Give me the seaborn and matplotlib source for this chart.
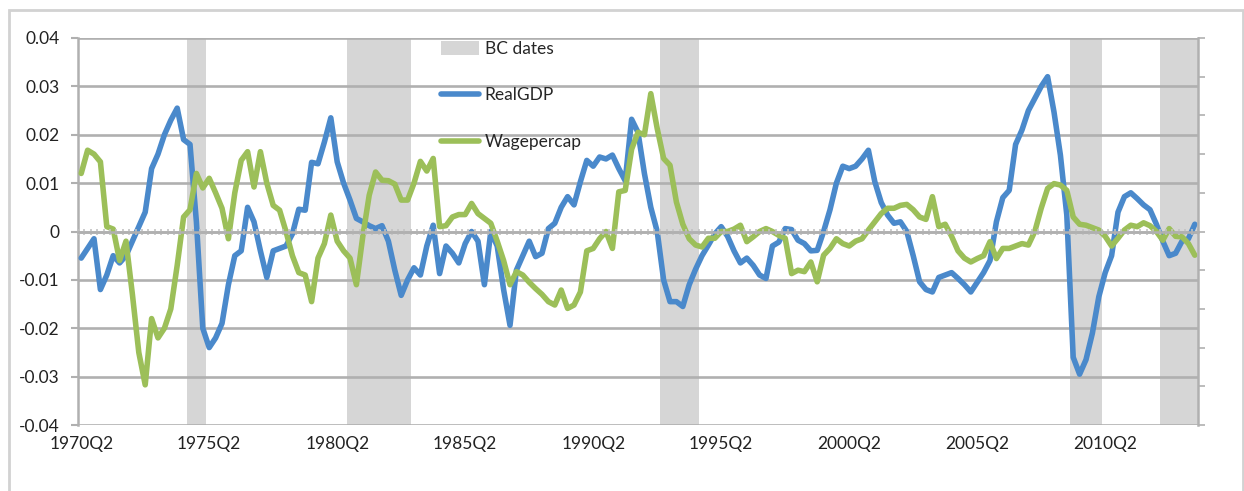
import numpy as np
import pandas as pd
import matplotlib
matplotlib.use("Agg")
import matplotlib.pyplot as plt
import seaborn as sns
from matplotlib.patches import Patch, Rectangle
from matplotlib.lines import Line2D
from matplotlib.ticker import MultipleLocator, FuncFormatter

# quarters 1970Q2 .. 2013Q4
quarters = [f"{1970 + (i + 1) // 4}Q{(i + 1) % 4 + 1}" for i in range(175)]

real_gdp = [
    -0.0055, -0.0035, -0.0015, -0.012, -0.009, -0.005, -0.0065, -0.005, -0.002, 0.001,
    0.004, 0.013, 0.016, 0.02, 0.023, 0.0255, 0.019, 0.018, 0.002, -0.02,
    -0.024, -0.022, -0.019, -0.011, -0.005, -0.004, 0.005, 0.002, -0.004, -0.0095,
    -0.004, -0.0035, -0.003, -0.0005, 0.0046, 0.0044, 0.0143, 0.014, 0.0185, 0.0235,
    0.0144, 0.01, 0.0065, 0.0027, 0.002, 0.0012, 0.0006, 0.0012, -0.002, -0.008,
    -0.0132, -0.01, -0.0075, -0.009, -0.003, 0.0013, -0.0087, -0.003, -0.0045, -0.0065,
    -0.0025, 0.0, -0.002, -0.011, 0.0, -0.003, -0.012, -0.0194, -0.008, -0.005,
    -0.002, -0.0052, -0.0045, 0.0006, 0.0017, 0.005, 0.0072, 0.0055, 0.0103, 0.0147,
    0.0135, 0.0154, 0.015, 0.0158, 0.013, 0.0105, 0.0232, 0.0205, 0.012, 0.005,
    0.0, -0.010, -0.0145, -0.0145, -0.0155, -0.011, -0.0078, -0.005, -0.0028, -0.0005,
    0.001, -0.001, -0.004, -0.0065, -0.0055, -0.007, -0.009, -0.0097, -0.003, -0.0022,
    0.0006, 0.0004, -0.0018, -0.0025, -0.004, -0.0039, 0.0, 0.0045, 0.010, 0.0135,
    0.013, 0.0135, 0.015, 0.0168, 0.0103, 0.006, 0.0034, 0.0017, 0.002, 0.0,
    -0.005, -0.0104, -0.012, -0.0125, -0.0095, -0.009, -0.0085, -0.0097, -0.011, -0.0125,
    -0.0105, -0.0085, -0.006, 0.002, 0.007, 0.0085, 0.018, 0.021, 0.025, 0.0275,
    0.030, 0.032, 0.0247, 0.0158, 0.0034, -0.026, -0.0295, -0.0265, -0.021, -0.0135,
    -0.0085, -0.005, 0.004, 0.0072, 0.008, 0.0068, 0.0055, 0.0045, 0.0015, -0.002,
    -0.005, -0.0045, -0.002, -0.0015, 0.0015,
]

wage_per_cap = [
    0.012, 0.0168, 0.016, 0.0144, 0.001, 0.0005, -0.006, -0.002, -0.013, -0.025,
    -0.0317, -0.018, -0.022, -0.020, -0.016, -0.007, 0.003, 0.0045, 0.012, 0.009,
    0.011, 0.008, 0.0048, -0.0015, 0.008, 0.0147, 0.0165, 0.0092, 0.0165, 0.010,
    0.0054, 0.0044, 0.0, -0.005, -0.0085, -0.009, -0.0145, -0.0055, -0.0025, 0.0034,
    -0.002, -0.004, -0.0055, -0.011, -0.001, 0.0075, 0.0123, 0.0106, 0.0105, 0.0098,
    0.0065, 0.0065, 0.01, 0.0145, 0.0125, 0.0151, 0.001, 0.0012, 0.003, 0.0035,
    0.0035, 0.0058, 0.0037, 0.0027, 0.0017, -0.002, -0.006, -0.011, -0.0083, -0.009,
    -0.0105, -0.0118, -0.013, -0.0145, -0.0152, -0.0121, -0.0159, -0.0152, -0.0125, -0.004,
    -0.0035, -0.0015, 0.0, -0.0035, 0.0082, 0.0085, 0.017, 0.0205, 0.020, 0.0285,
    0.0213, 0.0151, 0.0137, 0.0061, 0.0015, -0.0015, -0.0028, -0.0032, -0.0014, -0.0014,
    0.0, 0.0, 0.0005, 0.0013, -0.0021, -0.0011, 0.0, 0.0006, 0.0, -0.0008,
    -0.0014, -0.0087, -0.008, -0.0083, -0.0063, -0.0104, -0.0049, -0.0035, -0.0015, -0.0025,
    -0.003, -0.002, -0.0015, 0.0003, 0.002, 0.0037, 0.0048, 0.0048, 0.0054, 0.0056,
    0.0045, 0.003, 0.0025, 0.0072, 0.001, 0.0015, -0.001, -0.004, -0.0055, -0.0063,
    -0.0056, -0.005, -0.0021, -0.0056, -0.0035, -0.0035, -0.003, -0.0025, -0.0028, 0.0,
    0.0048, 0.0089, 0.0099, 0.0096, 0.0085, 0.003, 0.0015, 0.0013, 0.0008, 0.0003,
    -0.001, -0.003, -0.0014, 0.0003, 0.0013, 0.001, 0.0018, 0.0012, 0.0, -0.0018,
    0.0006, -0.001, -0.0011, -0.0025, -0.0049,
]

# business cycle (recession) periods, first and last quarter
bc_dates = [
    ("1974Q3", "1975Q1"),
    ("1980Q4", "1983Q1"),
    ("1993Q1", "1994Q2"),
    ("2009Q1", "2010Q1"),
    ("2012Q3", "2013Q4"),
]

x_labels = ["1970Q2", "1975Q2", "1980Q2", "1985Q2", "1990Q2",
            "1995Q2", "2000Q2", "2005Q2", "2010Q2"]

BLUE = "#4a89cb"
GREEN = "#9cbf59"
BAND = "#d6d6d6"
GRID = "#b0b0b0"

df = pd.DataFrame({"idx": np.arange(len(quarters)), "quarter": quarters,
                   "RealGDP": real_gdp, "Wagepercap": wage_per_cap})
long_df = df.melt(id_vars=["idx", "quarter"], var_name="series", value_name="value")

in_bc = np.zeros(len(quarters), dtype=bool)
for start, end in bc_dates:
    a, b = quarters.index(start), quarters.index(end)
    in_bc[a:b + 1] = True

sns.set_theme(style="white")
plt.rcParams["font.family"] = ["Lato", "DejaVu Sans"]

fig = plt.figure(figsize=(12.44, 4.91), dpi=100)
ax = fig.add_axes([78 / 1244, 1 - 425 / 491, 1120 / 1244, 387 / 491])

ymin, ymax = -0.04, 0.04
ax.bar(df["idx"][in_bc], ymax - ymin, bottom=ymin, width=1.0,
       color=BAND, linewidth=0, zorder=0.3)

sns.lineplot(data=long_df, x="idx", y="value", hue="series",
             palette=[BLUE, GREEN], linewidth=4.0, legend=False, ax=ax, zorder=3)

ax.set_xlim(-0.5, len(quarters) - 0.5)
ax.set_ylim(ymin, ymax)
ax.yaxis.set_major_locator(MultipleLocator(0.01))
ax.yaxis.set_major_formatter(FuncFormatter(lambda v, p: "0" if abs(v) < 1e-9 else f"{v:.2f}"))
ax.grid(axis="y", color=GRID, linewidth=1.9)
ax.set_axisbelow(True)

tick_pos = [quarters.index(q) for q in x_labels]
ax.set_xticks(tick_pos)
ax.set_xticklabels(x_labels)
ax.tick_params(axis="x", length=0, pad=8, labelsize=12.5, colors="#222222")
ax.tick_params(axis="y", left=True, length=5, width=1.5, color=GRID,
               pad=8, labelsize=12.5, labelcolor="#222222")
ax.set_xlabel("")
ax.set_ylabel("")
for side in ["top", "right", "bottom"]:
    ax.spines[side].set_visible(False)
ax.spines["left"].set_color(GRID)
ax.spines["left"].set_linewidth(1.8)

# category axis crossing at zero
axc = ax.twiny()
axc.set_xlim(ax.get_xlim())
axc.xaxis.set_ticks_position("bottom")
axc.spines["bottom"].set_position(("data", 0))
axc.set_xticks(np.arange(len(quarters) + 1) - 0.5)
axc.tick_params(axis="x", direction="inout", length=5, width=1.2,
                color="#c2c2c2", labelbottom=False, labeltop=False)
for side in ["top", "left", "right"]:
    axc.spines[side].set_visible(False)
axc.spines["bottom"].set_color(GRID)
axc.spines["bottom"].set_linewidth(1.8)

# secondary value axis on the right (ticks only)
axr = ax.twinx()
axr.set_ylim(-1, 1)
axr.set_yticks(np.linspace(-1, 1, 11))
axr.tick_params(axis="y", right=True, length=5, width=1.2, color=GRID, labelright=False)
for side in ["top", "left", "bottom"]:
    axr.spines[side].set_visible(False)
axr.spines["right"].set_color(GRID)
axr.spines["right"].set_linewidth(1.8)
axr.grid(False)

handles = [Patch(facecolor=BAND, edgecolor="none"),
           Line2D([], [], color=BLUE, linewidth=4.0),
           Line2D([], [], color=GREEN, linewidth=4.0)]
leg = ax.legend(handles, ["BC dates", "RealGDP", "Wagepercap"],
                loc="upper left", bbox_to_anchor=(0.318, 1.01), frameon=False,
                fontsize=12.5, labelspacing=1.75, handlelength=2.2,
                handleheight=0.8, handletextpad=0.3, borderaxespad=0)
leg.set_zorder(5)

fig.patches.append(Rectangle((9 / 1244, -0.1), 1234 / 1244, 1.1 - 10 / 491,
                             transform=fig.transFigure, fill=False,
                             edgecolor="#d2d2d2", linewidth=2))

fig.savefig("out.png", dpi=100)
